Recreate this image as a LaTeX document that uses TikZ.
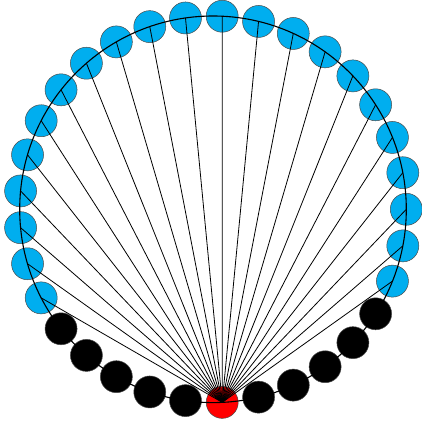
\documentclass[tikz,border=0pt]{standalone}
\usepackage{tikz}
\usetikzlibrary{calc}
\definecolor{ringblue}{HTML}{00AEEF}
\definecolor{ringred}{HTML}{FF0000}
\definecolor{ringedge}{HTML}{4A4A4A}
\tikzset{
  dot/.style={circle, draw=ringedge, line width=0.5pt, minimum size=32pt, inner sep=0pt},
  src/.style={dot, fill=ringred},
  lit/.style={dot, fill=ringblue},
  dark/.style={dot, fill=black},
  ring/.style={line width=1.1pt, color=black},
  link/.style={line width=0.8pt, color=black},
}
\begin{document}
\begin{tikzpicture}[x=1pt, y=1pt]
    \useasboundingbox (0,0) rectangle (421,428);
    \coordinate (c) at (213,218.7);
    \node[src] (n0) at ([shift={(c)}]-87.27:193.3) {};
    \foreach \k in {1,2,3,4,5,28,29,30,31,32}
      { \node[dark] (n\k) at ([shift={(c)}]{-87.27+\k*360/33}:193.3) {}; }
    \foreach \k in {6,...,27}
      { \node[lit] (n\k) at ([shift={(c)}]{-87.27+\k*360/33}:193.3) {}; }
    \draw[ring] (c) circle[radius=193.3];
    \foreach \k in {6,...,27}
      { \draw[link] (n0.center) -- (n\k.center); }
  \end{tikzpicture}
\end{document}
